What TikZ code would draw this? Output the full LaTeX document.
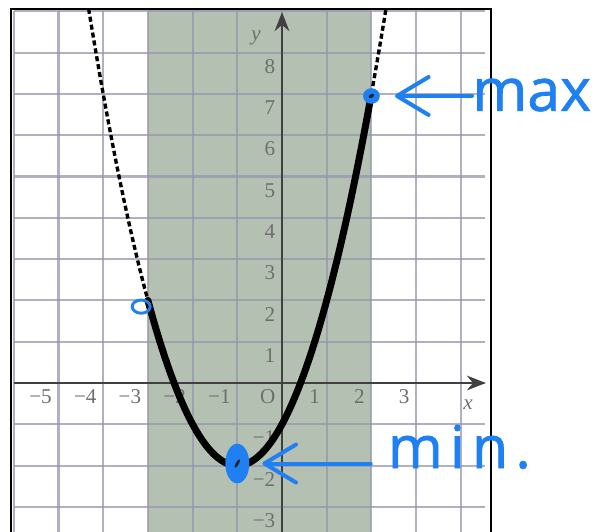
\documentclass[tikz,border=0pt]{standalone}
\usepackage{fontspec}
\setmainfont{Liberation Serif}
\newfontfamily\handfont[FakeBold=1.2]{Open Sans}
\usetikzlibrary{
    arrows.meta,
    shapes.geometric,
    positioning
}
\definecolor{shadegreen}{RGB}{180,192,178}
\definecolor{gridgray}{RGB}{150,150,172}
\definecolor{labelgray}{RGB}{110,110,110}
\definecolor{penblue}{RGB}{30,128,242}

\begin{document}
\begin{tikzpicture}[
    x=0.745cm, y=0.6883cm,
    gridline/.style={draw=gridgray, line width=1pt, opacity=0.75},
    axisline/.style={draw=black!75, line width=0.7pt, -{Stealth[length=9pt, width=7pt]}},
    ticklabel/.style={
        anchor=north east,
        inner sep=3pt,
        text=labelgray,
        font=\fontsize{10}{12}\selectfont
    },
    axislabel/.style={text=labelgray, font=\itshape\fontsize{10}{12}\selectfont},
    solidcurve/.style={line width=3.3pt, line cap=round},
    dashcurve/.style={line width=1.6pt, dash pattern=on 2.4pt off 1.4pt},
    blob/.style={ellipse, fill=penblue, inner sep=0pt},
    pen/.style={draw=penblue, line width=1.9pt, line cap=round},
    penarrow/.style={pen, -{Straight Barb[round, length=15pt, width=18pt]}},
    handtext/.style={
        text=penblue,
        inner sep=0pt,
        font=\handfont\fontsize{28}{30}\selectfont
    }
]

\useasboundingbox (-6.309,-3.608) rectangle (7.114,9.274);

% Shaded interval
\fill[shadegreen] (-3,-3.8) rectangle (2,9.06);

% Grid
\foreach \i in {-6,...,4}
    \draw[gridline] (\i,-3.8) -- (\i,9);
\foreach \j in {-3,...,9}
    \draw[gridline] (-6,\j) -- (4.54,\j);

% Frame
\draw[line width=1pt] (-6.06,-3.8) |- (4.68,9.06) -- (4.68,-3.8);

% Axes
\draw[axisline] (-6,0) -- (4.56,0);
\draw[axisline] (0,-3.8) -- (0,8.98);
\node[axislabel] (ylab) at (-0.58,8.35) {y};
\node[axislabel] (xlab) at (4.16,-0.53) {x};

% Tick labels
\foreach \k in {-5,-4,-3,-2,-1,1,2,3}
    \node[ticklabel] (xt\k) at (\k,0) {\ifnum\k<0 −\number-\k\else\k\fi};
\node[ticklabel] (origin) at (0,0) {O};
\foreach \k in {-3,-2,-1,1,2,...,8}
    \node[ticklabel] (yt\k) at (0,\k) {\ifnum\k<0 −\number-\k\else\k\fi};

% Parabola
\draw[dashcurve] plot[smooth, samples=30, domain=-4.3257:-3] (\x, {\x*\x+2*\x-1});
\draw[dashcurve] plot[smooth, samples=10, domain=2:2.3257] (\x, {\x*\x+2*\x-1});
\draw[solidcurve] plot[smooth, samples=80, domain=-3:2] (\x, {\x*\x+2*\x-1});

% Handwritten marks
\node[ellipse, draw=penblue, line width=1.4pt, minimum width=0.3cm,
      minimum height=0.22cm, inner sep=0pt] (startloop) at (-3.15,1.85) {};
\node[blob, minimum width=0.28cm, minimum height=0.26cm] (maxdot) at (2,6.95) {};
\fill[black!85, rotate around={30:(maxdot.center)}] (maxdot.center) ellipse [x radius=0.05cm, y radius=0.03cm];
\node[blob, minimum width=0.40cm, minimum height=0.66cm] (mindot) at (-1,-1.95) {};
\fill[black!85, rotate around={60:(mindot.center)}] (mindot.center) ellipse [x radius=0.08cm, y radius=0.025cm];

\node[handtext, anchor=base west] (maxtext) at (4.25,6.59) {max};
\node[handtext, anchor=base west] (mintext) at (2.36,-2.06)
    {\addfontfeatures{LetterSpace=12}min.};

\draw[penarrow, shorten >=7pt] (maxtext.west |- maxdot) -- (maxdot);
\draw[penarrow, shorten <=8pt, shorten >=6pt] (mintext.west |- mindot) -- (mindot);

\end{tikzpicture}
\end{document}
